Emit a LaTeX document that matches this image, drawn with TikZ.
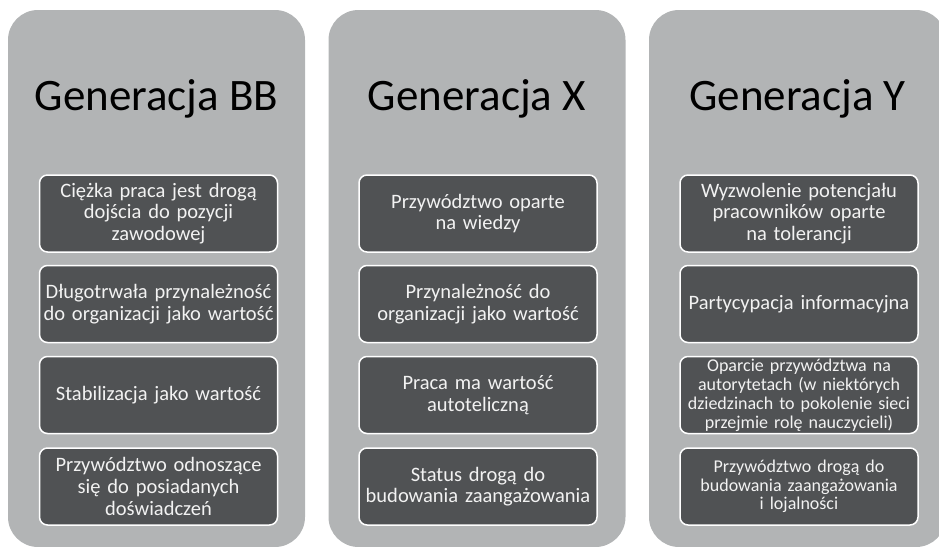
\documentclass[tikz,border=0pt]{standalone}
\usepackage{fontspec}
\setmainfont{Carlito}
\definecolor{panelgray}{RGB}{178,180,181}
\definecolor{itemgray}{RGB}{80,82,84}
\definecolor{itemtext}{RGB}{242,242,242}
\tikzset{
  panel/.style={fill=panelgray, rounded corners=30pt, minimum width=297pt,
    minimum height=537pt, inner sep=0pt},
  gentitle/.style={anchor=base, font=\fontsize{45}{50}\selectfont},
  item/.style={draw=white, line width=1.5pt, fill=itemgray, rounded corners=8pt,
    text=itemtext, minimum width=238pt, minimum height=77pt, text width=232pt,
    inner xsep=3pt, inner ysep=0pt, align=center,
    font=\fontsize{20.5}{21.7}\selectfont},
  smallitem/.style={item, font=\fontsize{18}{19}\selectfont}
}
\begin{document}
\begin{tikzpicture}[x=1pt,y=-1pt]
\useasboundingbox (0,0) rectangle (939,546);
% panels
\node[panel] (bb) at (156.5,278.5) {};
\node[panel] (x) at (477,278.5) {};
\node[panel] (y) at (797.5,278.5) {};
% titles
\node[gentitle] (bbtitle) at (156.5,110) {Generacja BB};
\node[gentitle] (xtitle) at (477,110) {Generacja X};
\node[gentitle] (ytitle) at (797.5,110) {Generacja Y};
% Generacja BB
\node[item] (bb1) at (158.5,213.5) {Ciężka praca jest drogą\\ dojścia do pozycji\\ zawodowej};
\node[item] (bb2) at (158.5,304) {Długotrwała przynależność\\ do organizacji jako wartość};
\node[item] (bb3) at (158.5,395) {Stabilizacja jako wartość};
\node[item] (bb4) at (158.5,486.5) {Przywództwo odnoszące\\ się do posiadanych\\ doświadczeń};
% Generacja X
\node[item] (x1) at (478,213.5) {Przywództwo oparte\\ na wiedzy};
\node[item] (x2) at (478,304) {Przynależność do\\ organizacji jako wartość};
\node[item] (x3) at (478,395) {Praca ma wartość\\ autoteliczną};
\node[item] (x4) at (478,486.5) {Status drogą do\\ budowania zaangażowania};
% Generacja Y
\node[item] (y1) at (799,213.5) {Wyzwolenie potencjału\\ pracowników oparte\\ na tolerancji};
\node[item] (y2) at (799,304) {Partycypacja informacyjna};
\node[smallitem] (y3) at (799,395) {Oparcie przywództwa na\\ autorytetach (w niektórych\\ dziedzinach to pokolenie sieci\\ przejmie rolę nauczycieli)};
\node[smallitem, font=\fontsize{18}{18.5}\selectfont] (y4) at (799,486.5) {Przywództwo drogą do\\ budowania zaangażowania\\ i lojalności};
\end{tikzpicture}
\end{document}
